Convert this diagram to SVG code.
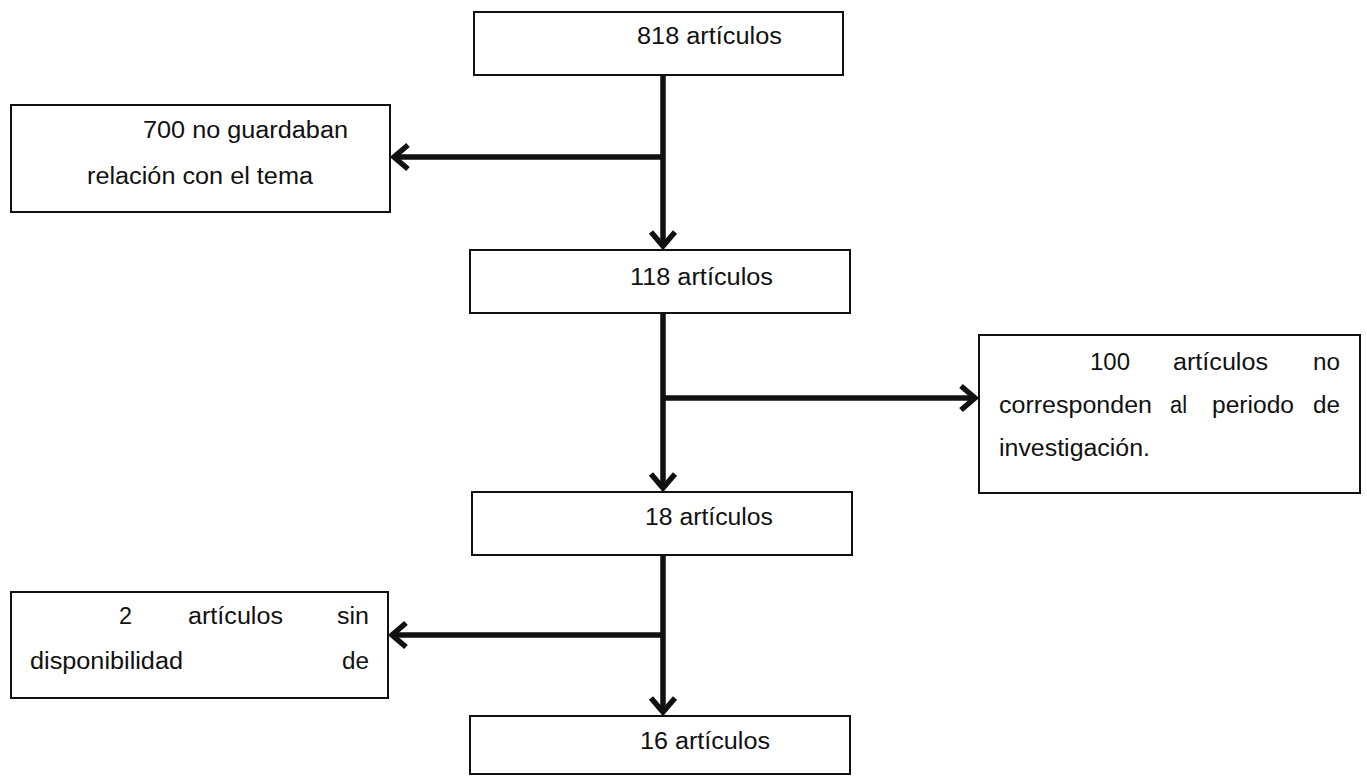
<svg xmlns="http://www.w3.org/2000/svg" width="1367" height="776" viewBox="0 0 1367 776">
<style>
.box{fill:#fff;stroke:#111;stroke-width:2}
.t{font-family:"Liberation Sans",Arial,sans-serif;font-size:23px;fill:#111}
.c{fill:none;stroke:#111;stroke-width:5.5}
</style>
<defs>
<marker id="chev" markerUnits="userSpaceOnUse" markerWidth="40" markerHeight="40" viewBox="-20 -20 40 40" refX="0" refY="0" orient="auto" overflow="visible">
<path d="M-14,-12 L0,0 L-14,12" fill="none" stroke="#111" stroke-width="5.5" stroke-linejoin="miter"/>
</marker>
</defs>
<rect width="1367" height="776" fill="#fff"/>
<g id="connectors">
<path class="c" d="M663,75 L663,246" marker-end="url(#chev)"/>
<path class="c" d="M665,157 L394,157" marker-end="url(#chev)"/>
<path class="c" d="M663,313 L663,488" marker-end="url(#chev)"/>
<path class="c" d="M661,398 L975,398" marker-end="url(#chev)"/>
<path class="c" d="M663,556 L663,712" marker-end="url(#chev)"/>
<path class="c" d="M665,635 L392,635" marker-end="url(#chev)"/>
</g>
<g id="n818">
<rect class="box" x="474" y="12" width="369" height="63"/>
<text class="t" x="637" y="44" textLength="145" lengthAdjust="spacingAndGlyphs">818 artículos</text>
</g>
<g id="n700">
<rect class="box" x="11" y="105" width="379" height="107"/>
<text class="t" x="143" y="138" textLength="205" lengthAdjust="spacingAndGlyphs">700 no guardaban</text>
<text class="t" x="87" y="184" textLength="226" lengthAdjust="spacingAndGlyphs">relación con el tema</text>
</g>
<g id="n118">
<rect class="box" x="470" y="250" width="380" height="63"/>
<text class="t" x="630" y="285" textLength="143" lengthAdjust="spacingAndGlyphs">118 artículos</text>
</g>
<g id="n100">
<rect class="box" x="979" y="335" width="381" height="158"/>
<text class="t" x="1090" y="370" textLength="40" lengthAdjust="spacingAndGlyphs">100</text>
<text class="t" x="1173" y="370" textLength="95" lengthAdjust="spacingAndGlyphs">artículos</text>
<text class="t" x="1313" y="370" textLength="27" lengthAdjust="spacingAndGlyphs">no</text>
<text class="t" x="999" y="413" textLength="153" lengthAdjust="spacingAndGlyphs">corresponden</text>
<text class="t" x="1170" y="413" textLength="17" lengthAdjust="spacingAndGlyphs">al</text>
<text class="t" x="1212" y="413" textLength="82" lengthAdjust="spacingAndGlyphs">periodo</text>
<text class="t" x="1313" y="413" textLength="27" lengthAdjust="spacingAndGlyphs">de</text>
<text class="t" x="999" y="456" textLength="151" lengthAdjust="spacingAndGlyphs">investigación.</text>
</g>
<g id="n18">
<rect class="box" x="472" y="492" width="380" height="63"/>
<text class="t" x="645" y="525" textLength="128" lengthAdjust="spacingAndGlyphs">18 artículos</text>
</g>
<g id="n2">
<rect class="box" x="11" y="592" width="377" height="106"/>
<text class="t" x="119" y="624" textLength="13" lengthAdjust="spacingAndGlyphs">2</text>
<text class="t" x="188" y="624" textLength="95" lengthAdjust="spacingAndGlyphs">artículos</text>
<text class="t" x="337" y="624" textLength="32" lengthAdjust="spacingAndGlyphs">sin</text>
<text class="t" x="30" y="669" textLength="153" lengthAdjust="spacingAndGlyphs">disponibilidad</text>
<text class="t" x="342" y="669" textLength="27" lengthAdjust="spacingAndGlyphs">de</text>
</g>
<g id="n16">
<rect class="box" x="470" y="716" width="380" height="58"/>
<text class="t" x="640" y="749" textLength="130" lengthAdjust="spacingAndGlyphs">16 artículos</text>
</g>
</svg>
